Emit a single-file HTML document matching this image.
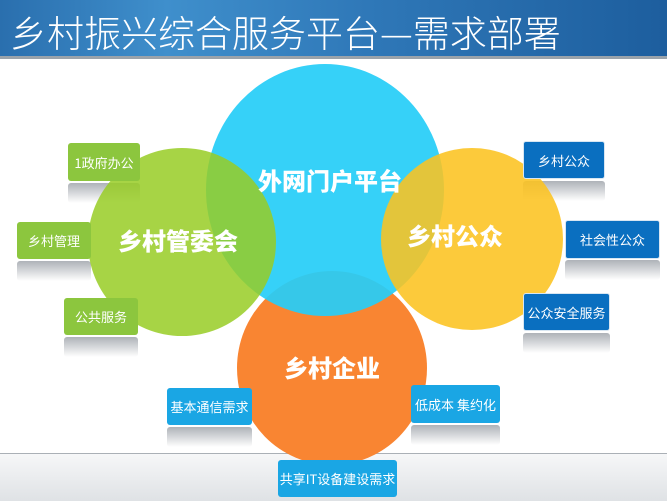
<!DOCTYPE html>
<html><head><meta charset="utf-8"><style>
body{margin:0;width:667px;height:500px;overflow:hidden;background:#fff;font-family:"Liberation Sans","Noto Sans CJK SC",sans-serif;position:relative}
.hd{position:absolute;left:0;top:0;width:667px;height:56px;background:linear-gradient(90deg,#2a6fae 0%,#3f8fcc 25%,#2f78b8 55%,#1d5e9e 100%);border-bottom:3px solid #9aa3ab}
.hd span{position:absolute;left:10px;top:4px;font-size:37px;color:#fff;white-space:nowrap;font-family:"Noto Sans CJK SC",sans-serif;font-weight:300}
.ft{position:absolute;left:0;top:453px;width:667px;height:47px;background:linear-gradient(#f6f7f8,#dfe2e5);border-top:1px solid #aab0b6}
.b{position:absolute;color:#fff;font-size:13px;display:flex;align-items:center;justify-content:center;border-radius:3px;font-family:"Noto Sans CJK SC",sans-serif}
.r{position:absolute;border-radius:3px;background:linear-gradient(#aeb2b8,rgba(255,255,255,0))}
.g{background:#8cc63e}.d{background:#0a6fc0;border:1px solid #d8e6f2}.l{background:#1aa6e4}
svg{position:absolute;left:0;top:0}
</style></head><body>
<div class="hd"><span>乡村振兴综合服务平台—需求部署</span></div>
<div class="ft"></div>
<div class="r" style="left:68px;top:183px;width:72px;height:20px"></div>
<div class="r" style="left:17px;top:261px;width:74px;height:20px"></div>
<div class="r" style="left:64px;top:337px;width:74px;height:20px"></div>
<div class="r" style="left:523px;top:181px;width:82px;height:20px"></div>
<div class="r" style="left:565px;top:260px;width:95px;height:20px"></div>
<div class="r" style="left:523px;top:333px;width:87px;height:20px"></div>
<div class="r" style="left:167px;top:427px;width:85px;height:20px"></div>
<div class="r" style="left:411px;top:425px;width:89px;height:20px"></div>
<svg width="667" height="500">
<ellipse cx="332" cy="368" rx="95" ry="97" fill="#f98532"/>
<ellipse cx="325" cy="190" rx="119" ry="126" fill="#27cdf7" opacity="0.93"/>
<circle cx="182" cy="242" r="94" fill="#98cc24" opacity="0.85"/>
<circle cx="472" cy="239" r="91" fill="#fcc320" opacity="0.88"/>
<g fill="#fff" font-family="Noto Sans CJK SC,sans-serif" font-weight="900" font-size="24" text-anchor="middle">
<text x="330" y="190">外网门户平台</text>
<text x="178" y="250">乡村管委会</text>
<text x="455" y="245">乡村公众</text>
<text x="332" y="377">乡村企业</text>
</g>
</svg>
<div class="b g" style="left:68px;top:143px;width:72px;height:38px">1政府办公</div>
<div class="b g" style="left:17px;top:222px;width:74px;height:37px">乡村管理</div>
<div class="b g" style="left:64px;top:298px;width:74px;height:37px">公共服务</div>
<div class="b d" style="left:523px;top:141px;width:80px;height:36px">乡村公众</div>
<div class="b d" style="left:565px;top:220px;width:93px;height:37px">社会性公众</div>
<div class="b d" style="left:523px;top:293px;width:85px;height:36px">公众安全服务</div>
<div class="b l" style="left:167px;top:388px;width:85px;height:37px">基本通信需求</div>
<div class="b l" style="left:411px;top:385px;width:89px;height:38px">低成本 集约化</div>
<div class="b l" style="left:278px;top:460px;width:119px;height:37px">共享IT设备建设需求</div>
</body></html>
